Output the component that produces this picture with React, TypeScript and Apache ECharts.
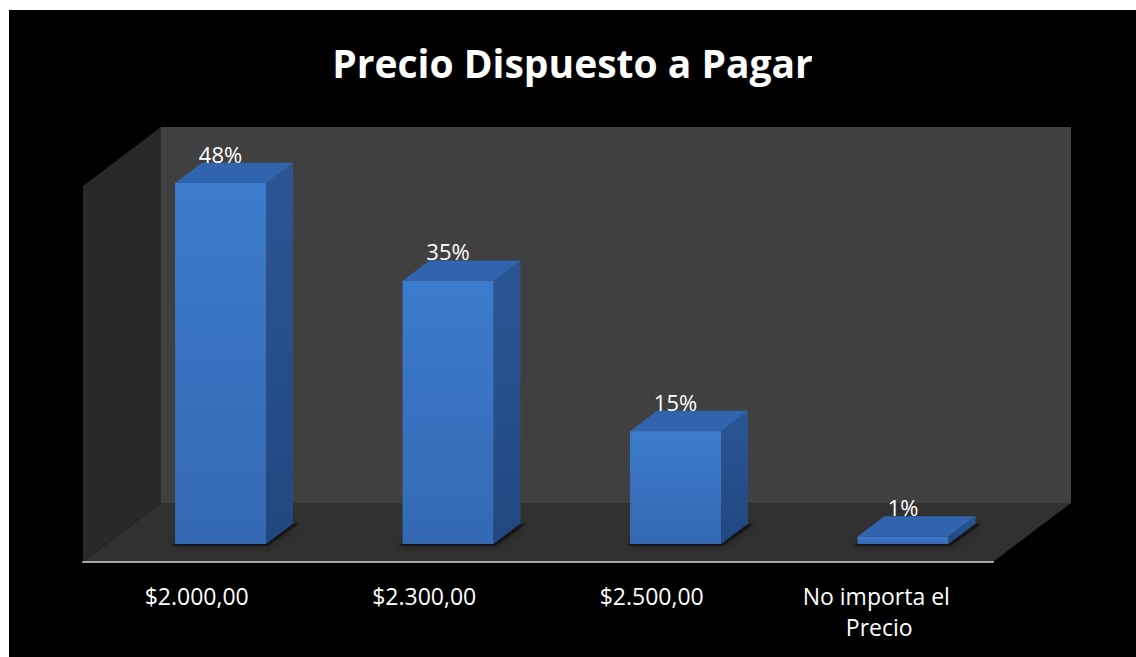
import React, { useEffect, useRef } from "react";
import * as echarts from "echarts";

const titleText = "Precio Dispuesto a Pagar";
const categories = ["$2.000,00", "$2.300,00", "$2.500,00", "No importa el Precio"];
const values = [48, 35, 15, 1];
const valueLabels = ["48%", "35%", "15%", "1%"];
const yMin = 0;
const yMax = 50;

// depth of the 3D box (px) and where bars sit in it
const DEPTH_X = 78;
const DEPTH_Y = -59;
const BAR_F0 = 0.305;
const BAR_F1 = 0.65;
const BAR_WIDTH_RATIO = 0.4;

export default function App() {
  const ref = useRef<HTMLDivElement>(null);

  useEffect(() => {
    if (!ref.current) return;
    const chart = echarts.init(ref.current, null, { renderer: "svg" });
    const font = "'Open Sans', 'Noto Sans', sans-serif";

    const option: any = {
      animation: false,
      backgroundColor: "#000000",
      title: {
        text: titleText,
        left: "center",
        top: 28,
        padding: [5, 0, 5, 8],
        textStyle: {
          color: "#ffffff",
          fontSize: 39,
          fontWeight: "bold",
          fontFamily: font,
        },
      },
      grid: { left: 74, top: 176, width: 910, height: 376, containLabel: false },
      xAxis: {
        type: "category",
        data: categories,
        axisLine: { show: true, lineStyle: { color: "#a6a6a6", width: 2 } },
        axisTick: { show: false },
        axisLabel: {
          color: "#ffffff",
          fontSize: 23,
          fontFamily: font,
          lineHeight: 31,
          margin: 18,
          width: 170,
          overflow: "break",
          interval: 0,
        },
        z: 5,
      },
      yAxis: {
        type: "value",
        min: yMin,
        max: yMax,
        show: false,
        splitLine: { show: false },
      },
      series: [
        {
          type: "custom",
          z: 1,
          data: [[0]],
          renderItem: (params: any, api: any) => {
            const cs = params.coordSys;
            const x0 = cs.x, y0 = cs.y, w = cs.width, h = cs.height;
            const bx = x0 + DEPTH_X, by = y0 + DEPTH_Y;
            return {
              type: "group",
              children: [
                {
                  type: "polygon",
                  shape: { points: [[bx, by], [bx + w, by], [bx + w, by + h], [bx, by + h]] },
                  style: { fill: "#404040" },
                },
                {
                  type: "polygon",
                  shape: { points: [[x0, y0], [bx, by], [bx, by + h], [x0, y0 + h]] },
                  style: { fill: "#292929" },
                },
                {
                  type: "polygon",
                  shape: { points: [[x0, y0 + h], [bx, by + h], [bx + w, by + h], [x0 + w, y0 + h]] },
                  style: { fill: "#313131" },
                },
              ],
            };
          },
        },
        {
          type: "custom",
          z: 2,
          data: values.map((v, i) => [i, v]),
          renderItem: (params: any, api: any) => {
            const i = api.value(0);
            const v = api.value(1);
            const base = api.coord([i, 0]);
            const top = api.coord([i, v]);
            const bw = api.size([1, 0])[0] * BAR_WIDTH_RATIO;
            const fx = DEPTH_X * BAR_F0, fy = DEPTH_Y * BAR_F0;
            const dx = DEPTH_X * (BAR_F1 - BAR_F0), dy = DEPTH_Y * (BAR_F1 - BAR_F0);
            const x0 = base[0] - bw / 2 + fx;
            const x1 = x0 + bw;
            const yb = base[1] + fy;
            const yt = top[1] + fy;
            return {
              type: "group",
              children: [
                {
                  type: "polygon",
                  shape: { points: [[x0 - 4, yb + 2], [x1 + 2, yb + 2], [x1 + dx + 6, yb + dy], [x0 + dx, yb + dy]] },
                  style: { fill: "rgba(0,0,0,0.45)", shadowBlur: 10, shadowColor: "rgba(0,0,0,0.8)" },
                },
                {
                  type: "polygon",
                  shape: { points: [[x1, yt], [x1 + dx, yt + dy], [x1 + dx, yb + dy], [x1, yb]] },
                  style: {
                    fill: new echarts.graphic.LinearGradient(0, 0, 0, 1, [
                      { offset: 0, color: "#2a5696" },
                      { offset: 1, color: "#224780" },
                    ]),
                  },
                },
                {
                  type: "polygon",
                  shape: { points: [[x0, yt], [x1, yt], [x1 + dx, yt + dy], [x0 + dx, yt + dy]] },
                  style: { fill: "#3064ad" },
                },
                {
                  type: "polygon",
                  shape: { points: [[x0, yt], [x1, yt], [x1, yb], [x0, yb]] },
                  style: {
                    fill: new echarts.graphic.LinearGradient(0, 0, 0, 1, [
                      { offset: 0, color: "#3c7bcc" },
                      { offset: 1, color: "#3468b3" },
                    ]),
                  },
                },
                {
                  type: "text",
                  style: {
                    text: valueLabels[i],
                    x: base[0] + fx,
                    y: yt + dy + 2,
                    textAlign: "center",
                    textVerticalAlign: "bottom",
                    fill: "#ffffff",
                    fontSize: 22,
                    fontFamily: font,
                  },
                },
              ],
            };
          },
        },
      ],
    };

    chart.setOption(option);
    return () => chart.dispose();
  }, []);

  return (
    <div
      ref={ref}
      style={{ position: "fixed", left: 9, top: 10, width: 1127, height: 647, background: "#000" }}
    />
  );
}
